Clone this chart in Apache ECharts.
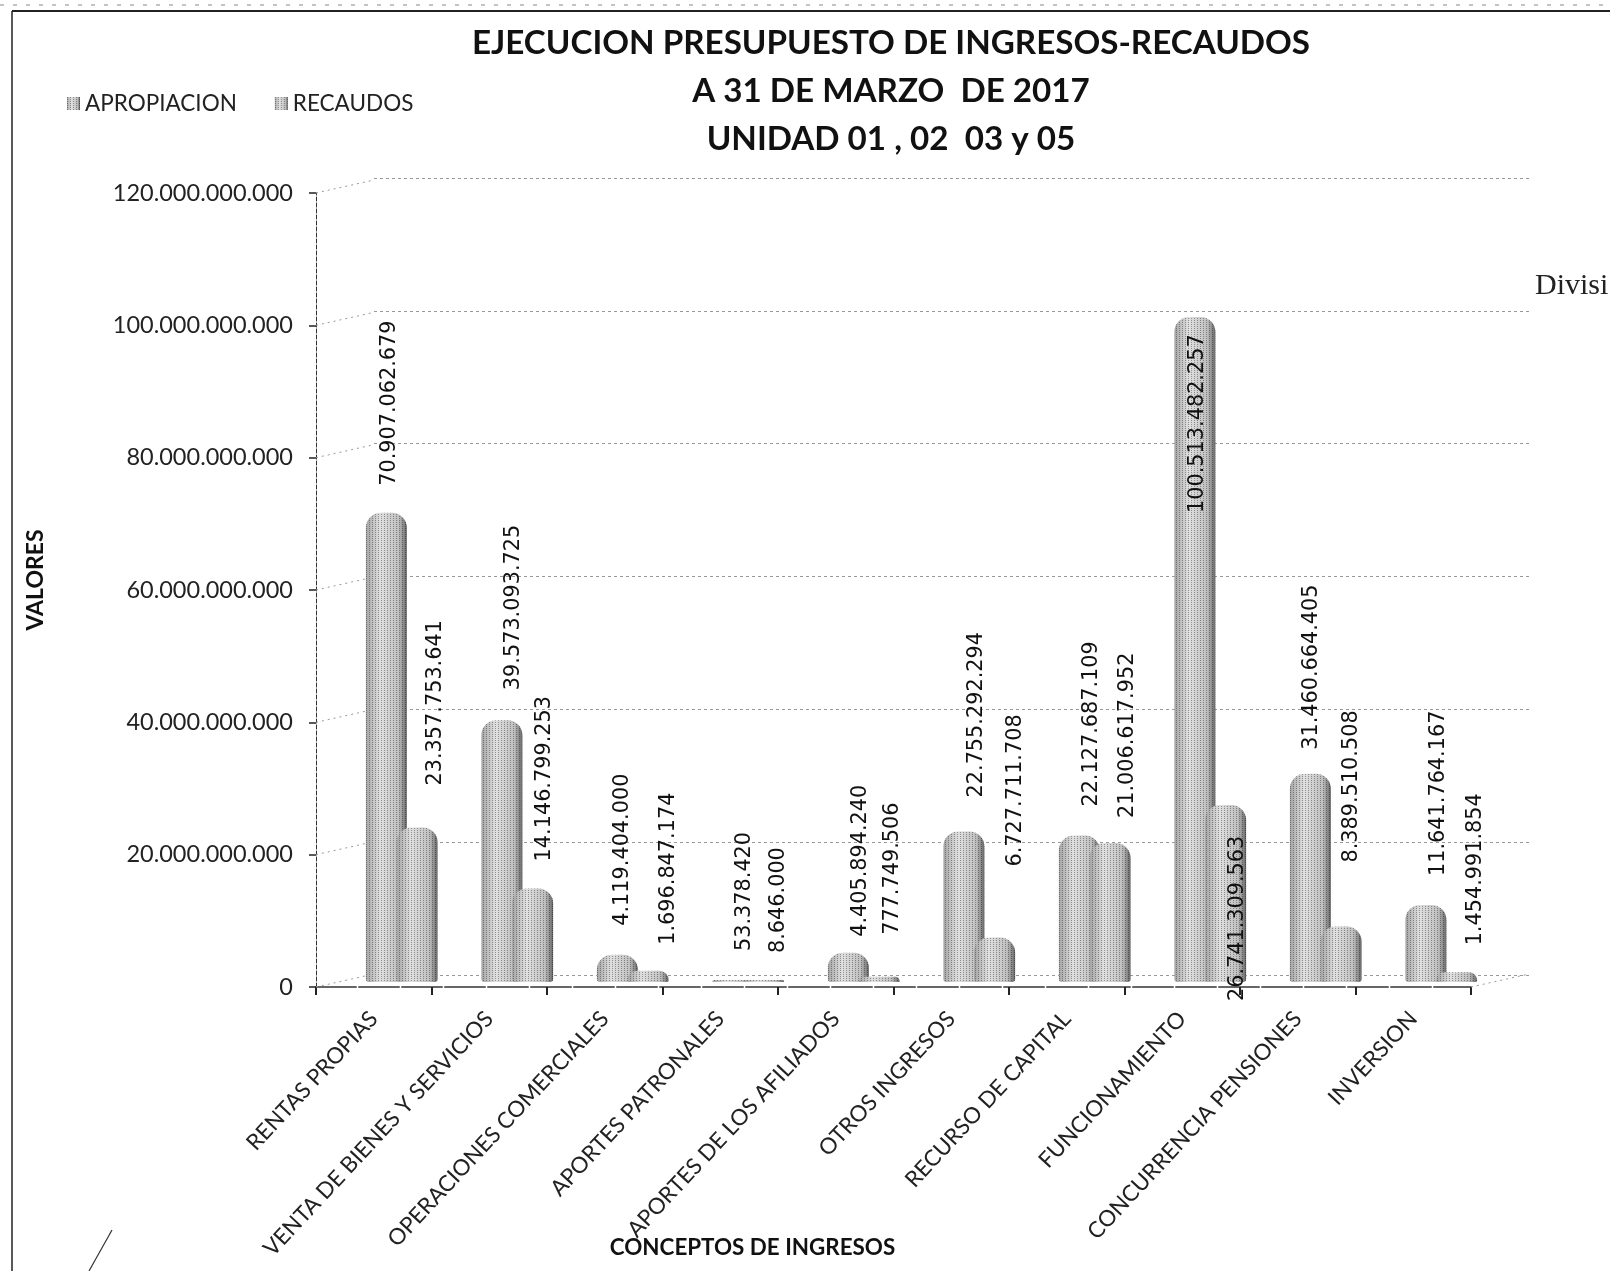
<!DOCTYPE html>
<html>
<head>
<meta charset="utf-8">
<title>Ejecucion presupuesto de ingresos</title>
<script src="https://cdn.jsdelivr.net/npm/echarts@6/dist/echarts.min.js"></script>
<style>
  html, body { margin: 0; padding: 0; background: #fff; }
  #chart { width: 1610px; height: 1271px; }
</style>
</head>
<body>
<div id="chart"></div>
<script>
// Chart data
const categories = ['RENTAS PROPIAS', 'VENTA DE BIENES Y SERVICIOS', 'OPERACIONES COMERCIALES', 'APORTES PATRONALES',
  'APORTES DE LOS AFILIADOS', 'OTROS INGRESOS', 'RECURSO DE CAPITAL', 'FUNCIONAMIENTO', 'CONCURRENCIA PENSIONES', 'INVERSION'];
const apropiacion = [70907062679, 39573093725, 4119404000, 53378420, 4405894240,
  22755292294, 22127687109, 100513482257, 31460664405, 11641764167];
const recaudos = [23357753641, 14146799253, 1696847174, 8646000, 777749506,
  6727711708, 21006617952, 26741309563, 8389510508, 1454991854];
const yTicks = [0, 20000000000, 40000000000, 60000000000, 80000000000, 100000000000, 120000000000];

// Hand placed label nudges [right, down], the original labels do not sit on a common rule
const apropiacionLabelShift = [[3, -27], [12, -30], [5, -29], [12, -29], [12, -16], [13, -34], [12, -29], [3, 196], [1, -24], [13, -29]];
const recaudosLabelShift = [[18, -42], [12, -27], [20, -26], [15, -27], [13, -42], [21, -71], [17, -25], [12, 196], [10, -64], [19, -27]];

const LABEL_FONT = '"DejaVu Sans"';
const TEXT_FONT = 'Lato';

function dotted(value) {
  return String(value).replace(/\B(?=(\d{3})+$)/g, '.');
}

// Stippled grey of the scanned cylinders
function barStyle() {
  return {
    color: {
      type: 'linear', x: 0, y: 0, x2: 1, y2: 0,
      colorStops: [
        { offset: 0, color: '#a4a4a4' },
        { offset: 0.35, color: '#e0e0e0' },
        { offset: 0.8, color: '#c0c0c0' },
        { offset: 1, color: '#666' }
      ]
    },
    borderRadius: [15, 15, 3, 3],
    decal: {
      symbol: 'rect',
      symbolSize: 1,
      dashArrayX: [1, 2],
      dashArrayY: [1, 1],
      color: 'rgba(0,0,0,0.35)'
    }
  };
}

// label offset is applied in the rotated frame of the text
function barData(values, shifts) {
  return values.map((value, i) => ({
    value,
    label: { offset: [-shifts[i][1], shifts[i][0]] }
  }));
}

function barSeries(name, values, shifts) {
  return {
    name,
    type: 'bar',
    xAxisIndex: 1,
    yAxisIndex: 1,
    barWidth: 41,
    barGap: '-25%',
    barMinHeight: 2,
    itemStyle: barStyle(),
    label: {
      show: true,
      position: 'top',
      distance: 0,
      rotate: 90,
      align: 'left',
      verticalAlign: 'middle',
      fontFamily: LABEL_FONT,
      fontSize: 20.8,
      color: '#111',
      formatter: p => dotted(p.value)
    },
    data: barData(values, shifts)
  };
}

// Diagonals joining the front axis to the back wall
function renderWallLink(params, api) {
  const half = api.size([1, 0])[0] / 2;
  const from = api.coord([api.value(0), api.value(1)]);
  const x = from[0] + api.value(2) * half;
  return {
    type: 'line',
    shape: { x1: x, y1: from[1], x2: x + 58, y2: from[1] - 13 },
    style: { stroke: '#999', lineWidth: 1, lineDash: [2, 4] }
  };
}

const wallLinks = yTicks.map(v => [0, v, -1]).concat([[9, 0, 1]]);

const chart = echarts.init(document.getElementById('chart'));
chart.setOption({
  animation: false,
  backgroundColor: '#fff',
  title: {
    text: 'EJECUCION PRESUPUESTO DE INGRESOS-RECAUDOS\nA 31 DE MARZO  DE 2017\nUNIDAD 01 , 02  03 y 05',
    left: 886,
    top: 14,
    textAlign: 'center',
    textStyle: { fontFamily: TEXT_FONT, fontSize: 33.2, fontWeight: 'bold', color: '#111', lineHeight: 48 }
  },
  legend: {
    left: 62,
    top: 87,
    itemWidth: 13,
    itemHeight: 13,
    itemGap: 38,
    icon: 'rect',
    textStyle: { fontFamily: TEXT_FONT, fontSize: 22.5, color: '#222' },
    data: ['APROPIACION', 'RECAUDOS']
  },
  grid: [
    { left: 316, top: 193, width: 1155, height: 794, outerBoundsMode: 'none' },
    { left: 344, top: 188, width: 1155, height: 794, outerBoundsMode: 'none' },
    { left: 374, top: 178, width: 1156, height: 797, outerBoundsMode: 'none' }
  ],
  xAxis: [
    {
      type: 'category',
      gridIndex: 0,
      data: categories,
      axisLine: { lineStyle: { color: '#666', width: 2, type: [40, 3] } },
      axisTick: { show: true, length: 8, lineStyle: { color: '#222', width: 2 } },
      axisLabel: { interval: 0, rotate: 47, margin: 28, fontFamily: TEXT_FONT, fontSize: 22.3, color: '#222' },
      name: 'CONCEPTOS DE INGRESOS',
      nameLocation: 'middle',
      nameMoveOverlap: false,
      nameGap: 250,
      nameTextStyle: { fontFamily: TEXT_FONT, fontSize: 22.4, fontWeight: 'bold', color: '#111', padding: [0, 0, 0, -282] }
    },
    { type: 'category', gridIndex: 1, data: categories, show: false },
    { type: 'category', gridIndex: 2, data: categories, show: false }
  ],
  yAxis: [
    {
      type: 'value',
      gridIndex: 0,
      min: 0,
      max: 120000000000,
      interval: 20000000000,
      axisLine: { show: true, lineStyle: { color: '#333', width: 1, type: 'dashed' } },
      axisTick: { show: true, length: 7, lineStyle: { color: '#222', width: 1.5 } },
      splitLine: { show: false },
      axisLabel: { margin: 23, fontFamily: TEXT_FONT, fontSize: 23.5, color: '#222', formatter: dotted },
      name: 'VALORES',
      nameLocation: 'middle',
      nameMoveOverlap: false,
      nameGap: 269,
      nameTextStyle: { fontFamily: TEXT_FONT, fontSize: 23, fontWeight: 'bold', color: '#111', padding: [0, 0, 0, 20] }
    },
    { type: 'value', gridIndex: 1, min: 0, max: 120000000000, interval: 20000000000, show: false, splitLine: { show: false } },
    {
      type: 'value',
      gridIndex: 2,
      min: 0,
      max: 120000000000,
      interval: 20000000000,
      axisLine: { show: false },
      axisTick: { show: false },
      axisLabel: { show: false },
      splitLine: { show: true, lineStyle: { color: '#999', width: 1, type: [3, 3] } }
    }
  ],
  series: [
    {
      type: 'custom',
      xAxisIndex: 0,
      yAxisIndex: 0,
      silent: true,
      renderItem: renderWallLink,
      data: wallLinks
    },
    barSeries('APROPIACION', apropiacion, apropiacionLabelShift),
    barSeries('RECAUDOS', recaudos, recaudosLabelShift)
  ],
  graphic: [
    // page frame of the scanned sheet
    { type: 'line', shape: { x1: 12, y1: 11, x2: 1610, y2: 11 }, style: { stroke: '#222', lineWidth: 2 } },
    { type: 'line', shape: { x1: 12, y1: 11, x2: 12, y2: 1271 }, style: { stroke: '#222', lineWidth: 1.5 } },
    { type: 'line', shape: { x1: 0, y1: 5, x2: 1610, y2: 5 }, style: { stroke: '#888', lineWidth: 1, lineDash: [4, 9] } },
    // pen stroke at the bottom
    { type: 'line', shape: { x1: 112, y1: 1230, x2: 89, y2: 1271 }, style: { stroke: '#333', lineWidth: 1.2 } },
    // text cut off at the page edge
    { type: 'text', left: 1535, top: 271, style: { text: 'Divisi', fontFamily: '"Liberation Serif"', fontSize: 30, fill: '#222' } }
  ]
});
</script>
</body>
</html>
